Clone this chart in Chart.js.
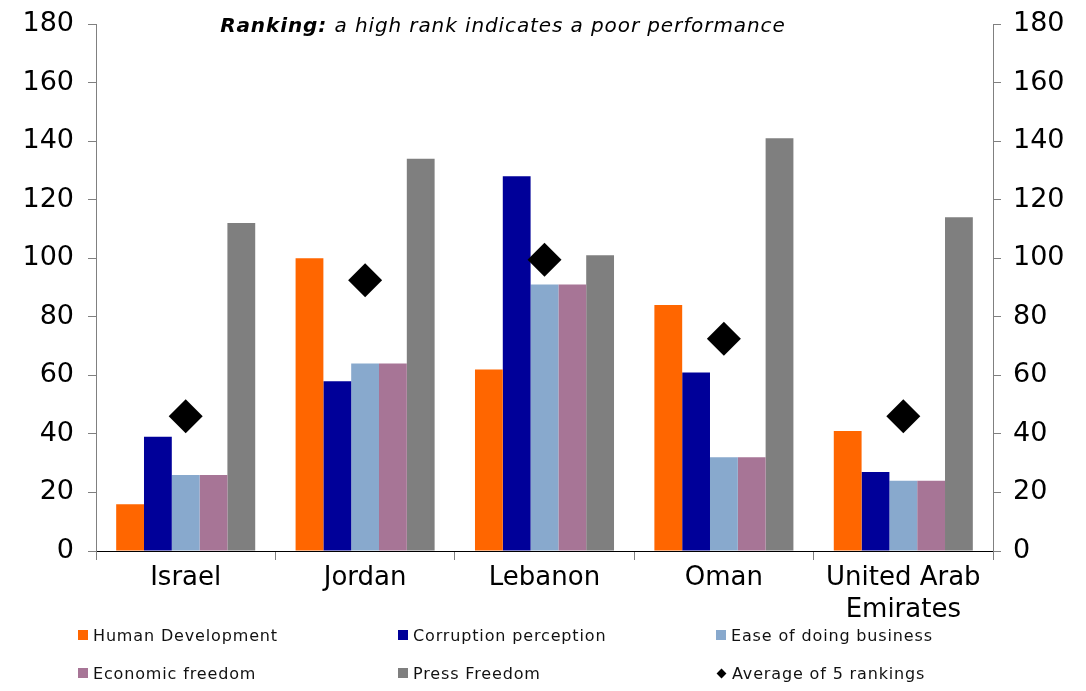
<!DOCTYPE html>
<html>
<head>
<meta charset="utf-8">
<script src="https://cdn.jsdelivr.net/npm/chart.js@4/dist/chart.umd.min.js"></script>
<style>
  html, body { margin: 0; padding: 0; background: #fff; }
  #wrap { position: relative; width: 1086px; height: 691px; }
  #legend {
    position: absolute; left: 78px; top: 625px;
    display: grid; grid-template-columns: 320px 318px 300px; row-gap: 18px;
    font-family: "DejaVu Sans", Verdana, sans-serif; font-size: 16px; color: #111;
    letter-spacing: 0.85px;
  }
  .item { display: flex; align-items: center; height: 20px; }
  .sw { width: 10px; height: 10px; margin-right: 5px; }
  .dia { width: 7px; height: 7px; background: #000; transform: rotate(45deg); margin: 0 7px 0 2px; }
</style>
</head>
<body>
<div id="wrap">
  <canvas id="chartRanking" width="1086" height="691"></canvas>
  <div id="legend"></div>
</div>
<script>
const paises = ['Israel', 'Jordan', 'Lebanon', 'Oman', ['United Arab', 'Emirates']];

const desarrolloHumano = [16, 100, 62, 84, 41];
const percepcionCorrupcion = [39, 58, 128, 61, 27];
const facilidadNegocios = [26, 64, 91, 32, 24];
const libertadEconomica = [26, 64, 91, 32, 24];
const libertadPrensa = [112, 134, 101, 141, 114];
const promedio = [46, 92.5, 99.5, 72.5, 46];

const ticksY = [0, 20, 40, 60, 80, 100, 120, 140, 160, 180];

const series = [
    { label: 'Human Development', data: desarrolloHumano, color: '#FF6600' },
    { label: 'Corruption perception', data: percepcionCorrupcion, color: '#000099' },
    { label: 'Ease of doing business', data: facilidadNegocios, color: '#88A9CD' },
    { label: 'Economic freedom', data: libertadEconomica, color: '#A77596' },
    { label: 'Press Freedom', data: libertadPrensa, color: '#7F7F7F' }
];

const fuente = '"DejaVu Sans", Verdana, sans-serif';

const tituloPlugin = {
    id: 'titulo',
    afterDraw(chart) {
        const ctx = chart.ctx;
        const a = chart.chartArea;
        const x = a.left + (a.right - a.left) * 0.4536;
        const y = a.top + 3;
        const parte1 = 'Ranking:';
        const parte2 = ' a high rank indicates a poor performance';
        ctx.save();
        ctx.textBaseline = 'middle';
        ctx.fillStyle = '#000';
        ctx.letterSpacing = '0.9px';
        ctx.font = 'italic bold 20px ' + fuente;
        const w1 = ctx.measureText(parte1).width;
        ctx.font = 'italic 20px ' + fuente;
        const w2 = ctx.measureText(parte2).width;
        let x0 = x - (w1 + w2) / 2;
        ctx.font = 'italic bold 20px ' + fuente;
        ctx.fillText(parte1, x0, y);
        ctx.font = 'italic 20px ' + fuente;
        ctx.fillText(parte2, x0 + w1, y);
        ctx.restore();
    }
};

const ejeY = (pos) => ({
    position: pos,
    min: 0,
    max: 180,
    afterBuildTicks: (s) => { s.ticks = ticksY.map(v => ({ value: v })); },
    afterFit: (s) => {
        s.width = pos === 'left' ? 96 : 93;
        s.paddingTop = 0;
        s.paddingBottom = 0;
    },
    ticks: { color: '#000', font: { family: fuente, size: 27 }, padding: pos === 'left' ? 14 : 12 },
    grid: { drawOnChartArea: false, drawTicks: true, tickLength: 8, color: '#808080' },
    border: { color: '#808080', width: 1 }
});

new Chart(document.getElementById('chartRanking'), {
    type: 'bar',
    data: {
        labels: paises,
        datasets: [
            {
                type: 'line',
                label: 'Average of 5 rankings',
                data: promedio,
                showLine: false,
                pointStyle: 'rectRot',
                pointRadius: 17,
                pointHoverRadius: 17,
                backgroundColor: '#000',
                borderColor: '#000',
                borderWidth: 0,
                order: 0
            },
            ...series.map(s => ({
                label: s.label,
                data: s.data,
                backgroundColor: s.color,
                borderWidth: 0,
                categoryPercentage: 0.775,
                barPercentage: 1.0,
                order: 1
            }))
        ]
    },
    options: {
        responsive: false,
        animation: false,
        maintainAspectRatio: false,
        layout: { padding: { top: 24, bottom: 0, left: 0, right: 0 } },
        plugins: {
            legend: { display: false },
            tooltip: { enabled: false }
        },
        scales: {
            x: {
                afterFit: (s) => { s.height = 140; },
                ticks: { color: '#000', font: { family: fuente, size: 26 }, padding: 3, maxRotation: 0 },
                grid: { drawOnChartArea: false, drawTicks: true, tickLength: 9, color: '#808080', offset: true },
                border: { color: '#000', width: 1 }
            },
            y: ejeY('left'),
            y1: ejeY('right')
        }
    },
    plugins: [tituloPlugin]
});

// leyenda en HTML, 3 columnas
const orden = [series[0], series[1], series[2], series[3], series[4], null];
const leyenda = document.getElementById('legend');
orden.forEach(s => {
    const item = document.createElement('div');
    item.className = 'item';
    if (s) {
        item.innerHTML = `<span class="sw" style="background:${s.color}"></span>${s.label}`;
    } else {
        item.innerHTML = `<span class="dia"></span>Average of 5 rankings`;
    }
    leyenda.appendChild(item);
});
</script>
</body>
</html>
